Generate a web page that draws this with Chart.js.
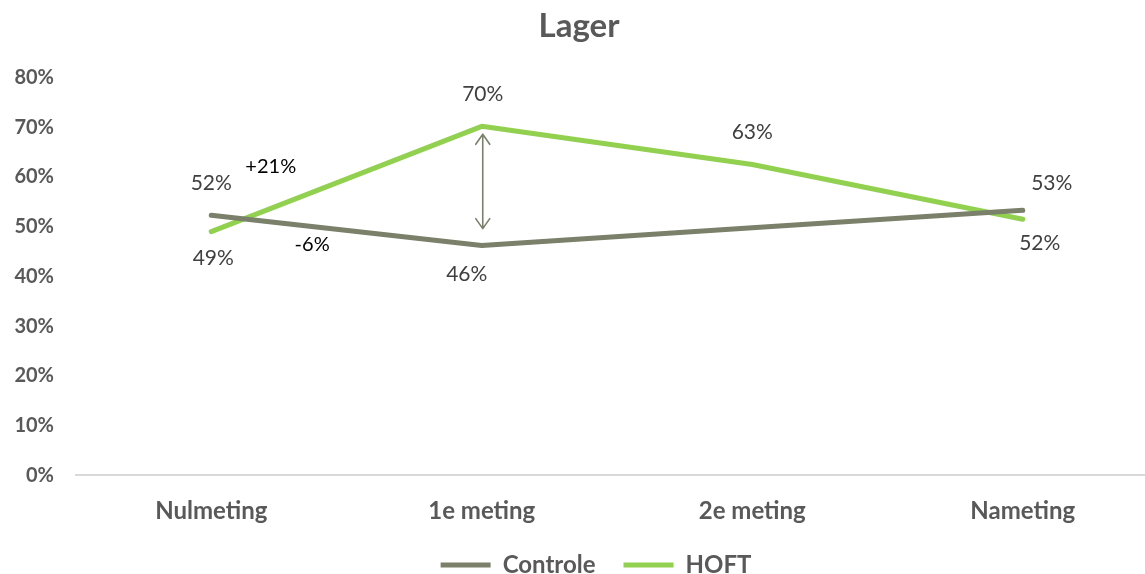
<!DOCTYPE html>
<html>
<head>
<meta charset="utf-8">
<script src="https://cdn.jsdelivr.net/npm/chart.js@4.4.1/dist/chart.umd.min.js"></script>
<style>
  html, body { margin: 0; padding: 0; background: #ffffff; overflow: hidden; }
  #wrap { position: relative; width: 1182px; height: 574px; }
</style>
</head>
<body>
<div id="wrap"><canvas id="c"></canvas></div>
<script>
// ---- data ----
const categories = ['Nulmeting', '1e meting', '2e meting', 'Nameting'];
const controleValues = [52.3, 46.2, 49.8, 53.3];
const hoftValues = [49.0, 70.2, 62.5, 51.5];
const controleLabels = ['52%', '46%', '', '53%'];
const hoftLabels = ['49%', '70%', '63%', '52%'];
const yTicks = [0, 10, 20, 30, 40, 50, 60, 70, 80];
const annotationTexts = ['+21%', '-6%'];

// ---- styling / placement (not data) ----
const C_CONTROLE = '#7A806A';
const C_HOFT = '#92D050';
const TEXT_GRAY = '#595959';
const LABEL_GRAY = '#404040';
const FONT = 'Lato, "Open Sans", sans-serif';

// label offsets (dx, dy in px) relative to point
const controleLabelOffsets = [[0, -32], [-15, 29], null, [29, -27]];
const hoftLabelOffsets = [[2, 27], [1, -32], [0, -32], [17, 24]];
// annotation anchor positions in data space: [xIndex, yValue]
const annotationAnchors = [[0.22, 62.1], [0.373, 46.4]];

const LEGEND_SHRINK = 36;
const LEGEND_SHIFT = -23;
const LEGEND_SHIFT_X = 17;

const legendTweak = {
  id: 'legendTweak',
  afterInit(chart) {
    const lg = chart.legend;
    if (!lg) return;
    const fit = lg.fit;
    lg.fit = function () { fit.call(this); this.height -= LEGEND_SHRINK; };
    const draw = lg.draw;
    lg.draw = function () {
      const t = this.top, h = this.height, l = this.left, r = this.right;
      this.top = t + LEGEND_SHIFT;
      this.height = this.bottom - this.top;
      this.left = l + LEGEND_SHIFT_X;
      this.right = r + LEGEND_SHIFT_X;
      draw.call(this);
      this.top = t; this.height = h; this.left = l; this.right = r;
    };
  }
};

const labelPlugin = {
  id: 'labels',
  afterDatasetsDraw(chart) {
    const ctx = chart.ctx;
    const xs = chart.scales.x, ys = chart.scales.y;
    ctx.save();
    ctx.font = '21px ' + FONT;
    ctx.textAlign = 'center';
    ctx.textBaseline = 'middle';
    ctx.fillStyle = LABEL_GRAY;
    const sets = [[controleValues, controleLabels, controleLabelOffsets], [hoftValues, hoftLabels, hoftLabelOffsets]];
    sets.forEach(([vals, labs, offs]) => {
      vals.forEach((v, i) => {
        if (!labs[i] || !offs[i]) return;
        const px = xs.getPixelForValue(i);
        const py = ys.getPixelForValue(v);
        ctx.fillText(labs[i], px + offs[i][0], py + offs[i][1]);
      });
    });
    // annotation texts
    ctx.fillStyle = '#000000';
    ctx.font = '20px ' + FONT;
    annotationTexts.forEach((t, k) => {
      const a = annotationAnchors[k];
      ctx.fillText(t, xs.getPixelForValue(a[0]), ys.getPixelForValue(a[1]));
    });
    // double-headed arrow between series at 1e meting
    const ax = xs.getPixelForValue(1) + 1;
    const yTop = ys.getPixelForValue(hoftValues[1]) + 8;
    const yBot = ys.getPixelForValue(controleValues[1]) - 17;
    ctx.strokeStyle = C_CONTROLE;
    ctx.lineWidth = 1.6;
    ctx.lineCap = 'round';
    ctx.lineJoin = 'round';
    ctx.beginPath();
    ctx.moveTo(ax, yTop); ctx.lineTo(ax, yBot);
    ctx.moveTo(ax - 7, yTop + 10); ctx.lineTo(ax, yTop); ctx.lineTo(ax + 7, yTop + 10);
    ctx.moveTo(ax - 7, yBot - 10); ctx.lineTo(ax, yBot); ctx.lineTo(ax + 7, yBot - 10);
    ctx.stroke();
    ctx.restore();
  }
};

new Chart(document.getElementById('c'), {
  type: 'line',
  data: {
    labels: categories,
    datasets: [
      { label: 'Controle', data: controleValues, borderColor: C_CONTROLE, backgroundColor: C_CONTROLE,
        borderWidth: 5, pointRadius: 0, tension: 0, borderCapStyle: 'round', borderJoinStyle: 'round' },
      { label: 'HOFT', data: hoftValues, borderColor: C_HOFT, backgroundColor: C_HOFT,
        borderWidth: 5, pointRadius: 0, tension: 0, borderCapStyle: 'round', borderJoinStyle: 'round' }
    ]
  },
  options: {
    responsive: true,
    maintainAspectRatio: false,
    animation: false,
    layout: { padding: { left: 0, right: 24, top: 0, bottom: 0 } },
    plugins: {
      title: { display: true, text: 'Lager', color: TEXT_GRAY,
        font: { family: FONT, size: 33, weight: 'bold' }, padding: { top: 7, bottom: 31 } },
      legend: { position: 'bottom',
        labels: { color: TEXT_GRAY, font: { family: FONT, size: 24, weight: 'bold' },
          usePointStyle: true, pointStyle: 'line', pointStyleWidth: 50, boxHeight: 5, padding: 28 } },
      tooltip: { enabled: false }
    },
    scales: {
      x: {
        offset: true,
        grid: { display: false, drawTicks: false, offset: true },
        border: { display: true, color: '#D9D9D9', width: 2 },
        ticks: { color: TEXT_GRAY, font: { family: FONT, size: 24, weight: 'bold' }, padding: 22 }
      },
      y: {
        min: 0, max: 80,
        grid: { display: false, drawTicks: false },
        border: { display: false },
        afterBuildTicks: (s) => { s.ticks = yTicks.map(v => ({ value: v })); },
        afterFit: (s) => { s.width = 76; },
        ticks: { color: TEXT_GRAY, font: { family: FONT, size: 20, weight: 'bold' }, padding: 22,
          callback: (v) => v + '%' }
      }
    }
  },
  plugins: [labelPlugin, legendTweak]
});
</script>
</body>
</html>
